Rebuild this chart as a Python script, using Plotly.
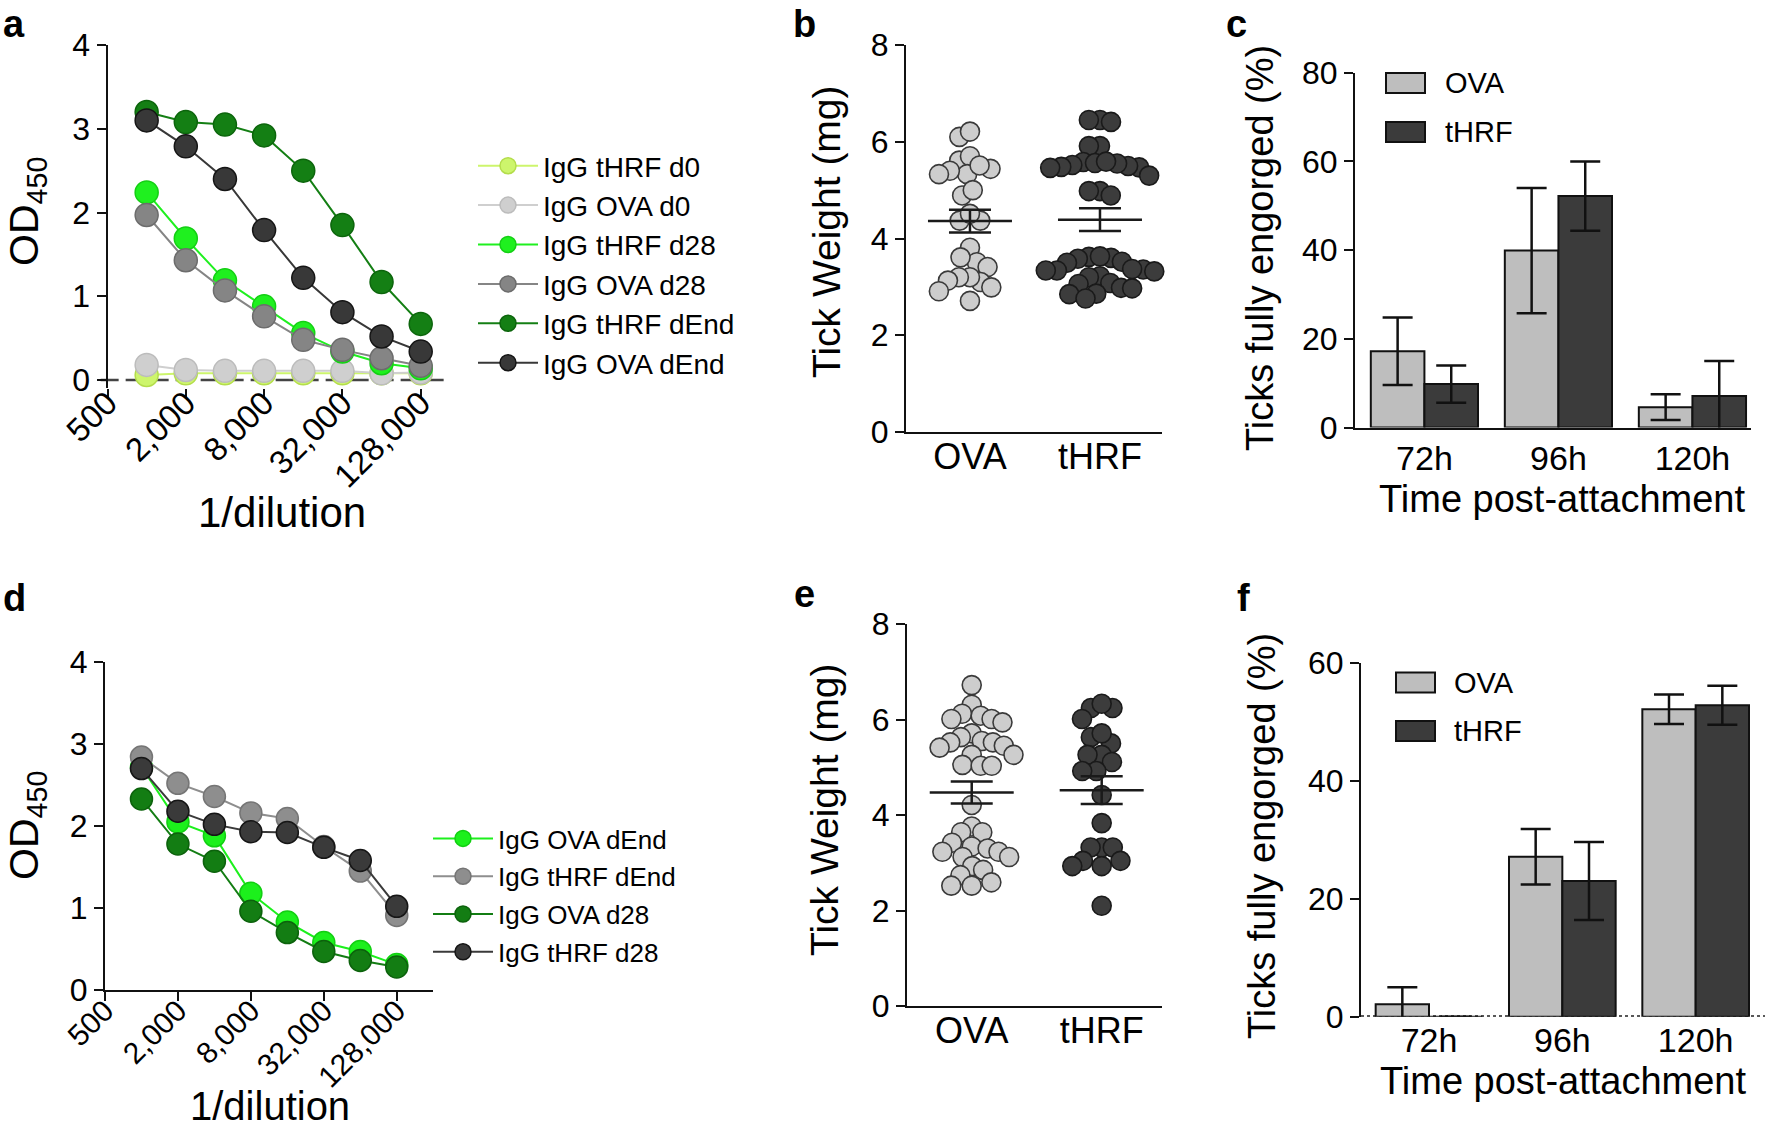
import math
import plotly.graph_objects as go

FONT = "Liberation Sans"
W, H = 1772, 1130

# ---------------- data ----------------
dilution = [1000, 2000, 4000, 8000, 16000, 32000, 64000, 128000]
dil_tickvals = [500, 2000, 8000, 32000, 128000]
dil_ticktext = ["500", "2,000", "8,000", "32,000", "128,000"]

a_names = ["IgG tHRF d0", "IgG OVA d0", "IgG tHRF d28", "IgG OVA d28", "IgG tHRF dEnd", "IgG OVA dEnd"]
a_thrf_d0 = [0.06, 0.08, 0.08, 0.08, 0.08, 0.08, 0.08, 0.08]
a_ova_d0 = [0.18, 0.12, 0.11, 0.11, 0.11, 0.11, 0.08, 0.09]
a_thrf_d28 = [2.24, 1.69, 1.19, 0.88, 0.56, 0.34, 0.20, 0.14]
a_ova_d28 = [1.97, 1.43, 1.07, 0.76, 0.48, 0.36, 0.26, 0.17]
a_thrf_dend = [3.20, 3.08, 3.05, 2.92, 2.50, 1.85, 1.17, 0.67]
a_ova_dend = [3.10, 2.79, 2.40, 1.79, 1.22, 0.81, 0.52, 0.34]

d_names = ["IgG OVA dEnd", "IgG tHRF dEnd", "IgG OVA d28", "IgG tHRF d28"]
d_ova_dend = [2.72, 2.05, 1.88, 1.18, 0.83, 0.58, 0.47, 0.31]
d_thrf_dend = [2.84, 2.52, 2.36, 2.16, 2.09, 1.75, 1.45, 0.91]
d_ova_d28 = [2.33, 1.78, 1.57, 0.96, 0.70, 0.47, 0.36, 0.28]
d_thrf_d28 = [2.70, 2.18, 2.02, 1.93, 1.92, 1.74, 1.58, 1.02]

groups = ["OVA", "tHRF"]
b_ova = [6.10, 6.21, 5.61, 5.70, 5.33, 5.44, 5.40, 5.51, 5.33, 4.89, 5.00, 4.37, 4.37, 4.51,
         3.81, 3.51, 3.61, 3.41, 3.10, 3.20, 3.20, 3.13, 2.99, 2.91, 2.71]
b_thrf = [6.45, 6.45, 6.41, 5.91, 5.91, 5.58, 5.56, 5.52, 5.48, 5.46, 5.47, 5.50, 5.55, 5.59,
          5.30, 4.98, 4.89, 4.98, 3.62, 3.60, 3.63, 3.58, 3.50, 3.52, 3.36, 3.34, 3.32, 3.34,
          3.37, 3.22, 3.20, 3.08, 3.06, 2.98, 2.97, 2.86, 2.85, 2.76]
b_mean = [4.36, 4.39]
b_sem = [0.235, 0.235]

e_ova = [6.72, 6.31, 6.12, 6.08, 6.01, 6.01, 5.94, 5.71, 5.63, 5.55, 5.52, 5.52, 5.45, 5.41,
         5.26, 5.26, 5.05, 5.03, 5.03, 4.21, 3.76, 3.64, 3.64, 3.42, 3.34, 3.30, 3.23, 3.23,
         3.12, 3.12, 2.93, 2.85, 2.74, 2.59, 2.52, 2.52]
e_thrf = [6.24, 6.01, 6.24, 6.33, 5.63, 5.50, 5.71, 5.26, 5.11, 5.26, 4.92, 4.92, 4.42, 3.83,
          3.32, 3.32, 3.32, 3.04, 2.93, 2.93, 3.04, 2.10]
e_mean = [4.47, 4.52]
e_sem = [0.23, 0.29]

times = ["72h", "96h", "120h"]
c_ova = [17.2, 39.9, 4.6]
c_ova_err = [7.6, 14.1, 2.9]
c_thrf = [9.8, 52.2, 7.1]
c_thrf_err = [4.2, 7.8, 7.9]
f_ova = [2.1, 27.1, 52.1]
f_ova_err = [2.9, 4.7, 2.5]
f_thrf = [0.0, 23.0, 52.8]
f_thrf_err = [0.0, 6.6, 3.3]


# ---------------- helpers ----------------
def fx(px):
    return px / W


def fy(py):
    return 1 - py / H


def beeswarm(vals, diam, ypx, xpx, squeeze):
    order = sorted(range(len(vals)), key=lambda i: -vals[i])
    placed = []
    off = [0.0] * len(vals)
    for i in order:
        y = vals[i] * ypx
        ivs = []
        for xj, yj in placed:
            dy = abs(y - yj)
            if dy < diam:
                dx = math.sqrt(diam * diam - dy * dy)
                ivs.append((xj - dx, xj + dx))
        cands = [0.0] + [e for iv in ivs for e in iv]
        ok = [c for c in cands if all(not (lo + 1e-6 < c < hi - 1e-6) for lo, hi in ivs)]
        best = min(ok, key=lambda c: (abs(c), c))
        placed.append((best, y))
        off[i] = best * squeeze / xpx
    return off


fig = go.Figure()

# ---------------- panel a ----------------
a_series = [a_thrf_d0, a_ova_d0, a_thrf_d28, a_ova_d28, a_thrf_dend, a_ova_dend]
a_fill = ["#cdf56c", "#cfcfcf", "#1ff01f", "#858585", "#147f14", "#383838"]
a_edge = ["#b4dd4c", "#bcbcbc", "#14cf14", "#6c6c6c", "#0c650c", "#151515"]
for name, ys, fc, ec in zip(a_names, a_series, a_fill, a_edge):
    fig.add_trace(go.Scatter(
        x=dilution, y=ys, name=name, mode="lines+markers", legendgroup=name,
        line=dict(color=fc, width=2),
        marker=dict(size=23, color=fc, line=dict(color=ec, width=1.5)),
        xaxis="x", yaxis="y", cliponaxis=False, legend="legend"))

# ---------------- panel d ----------------
d_series = [d_ova_dend, d_thrf_dend, d_ova_d28, d_thrf_d28]
d_fill = ["#1cf01c", "#8e8e8e", "#137d13", "#3a3a3a"]
d_edge = ["#12cf12", "#757575", "#0c620c", "#161616"]
for name, ys, fc, ec in zip(d_names, d_series, d_fill, d_edge):
    fig.add_trace(go.Scatter(
        x=dilution, y=ys, name=name, mode="lines+markers", legendgroup="d" + name,
        line=dict(color=fc, width=2),
        marker=dict(size=22, color=fc, line=dict(color=ec, width=1.5)),
        xaxis="x4", yaxis="y4", cliponaxis=False, legend="legend2"))

# ---------------- panels b / e (dot plots) ----------------
def dot_panel(xa, ya, ova, thrf, mean, sem, ypx, xpx):
    for gi, (vals, fc, ec) in enumerate([(ova, "#cdcdcd", "#3a3a3a"), (thrf, "#3c3c3c", "#1a1a1a")]):
        off = beeswarm(vals, 18.5, ypx, xpx, 0.6)
        fig.add_trace(go.Scatter(
            x=[gi + o for o in off], y=vals, mode="markers", showlegend=False,
            marker=dict(size=19, color=fc, line=dict(color=ec, width=1.6)),
            xaxis=xa, yaxis=ya, cliponaxis=False))
    fig.add_trace(go.Scatter(
        x=list(range(len(groups))), y=mean, mode="markers", showlegend=False,
        marker=dict(symbol="line-ew", size=60, color="#1a1a1a",
                    line=dict(color="#1a1a1a", width=2.5)),
        error_y=dict(type="data", array=sem, color="#1a1a1a", thickness=2.5, width=21),
        xaxis=xa, yaxis=ya, cliponaxis=False))


dot_panel("x2", "y2", b_ova, b_thrf, b_mean, b_sem, 387 / 8, 130)
dot_panel("x5", "y5", e_ova, e_thrf, e_mean, e_sem, 382 / 8, 130)

# ---------------- panels c / f (bars) ----------------
def bar_panel(xa, ya, ova, ova_err, thrf, thrf_err):
    for vals, err, fc, nm in [(ova, ova_err, "#bebebe", "OVA"), (thrf, thrf_err, "#3b3b3b", "tHRF")]:
        fig.add_trace(go.Bar(
            x=times, y=vals, name=nm, showlegend=False,
            marker=dict(color=fc, line=dict(color="#111111", width=2)),
            error_y=dict(type="data", array=err, color="#111111", thickness=2.5, width=15),
            xaxis=xa, yaxis=ya))


bar_panel("x3", "y3", c_ova, c_ova_err, c_thrf, c_thrf_err)
bar_panel("x6", "y6", f_ova, f_ova_err, f_thrf, f_thrf_err)

# ---------------- axes ----------------
TICK = 32
tickfont = dict(family=FONT, size=TICK, color="#000")
base = dict(showline=True, linecolor="#111", linewidth=2, ticks="outside", tickcolor="#111",
            tickwidth=2, ticklen=9, showgrid=False, zeroline=False, tickfont=tickfont,
            automargin=False)
catfont = dict(family=FONT, size=36, color="#000")
timefont = dict(family=FONT, size=34, color="#000")

layout_axes = dict(
    # a
    xaxis=dict(base, type="log", domain=[fx(107.5), fx(450)],
               range=[math.log10(500), math.log10(215000)], anchor="y",
               tickvals=dil_tickvals, ticktext=dil_ticktext, tickangle=-45, showline=False,
               tickfont=dict(family=FONT, size=33, color="#000"), ticklabelstandoff=-28),
    yaxis=dict(base, domain=[fy(388.4), fy(45)], range=[-0.1, 4], anchor="x",
               tickvals=[0, 1, 2, 3, 4]),
    # b
    xaxis2=dict(base, domain=[fx(906), fx(1162)], range=[-0.492, 1.477], anchor="y2",
                tickvals=[0, 1], ticktext=groups, ticks="", tickfont=catfont,
                ticklabelstandoff=-8),
    yaxis2=dict(base, domain=[fy(432), fy(45)], range=[0, 8], anchor="x2",
                tickvals=[0, 2, 4, 6, 8]),
    # c
    xaxis3=dict(base, domain=[fx(1355), fx(1751)], range=[-0.518, 2.437], anchor="y3",
                type="category", ticks="", tickfont=timefont),
    yaxis3=dict(base, domain=[fy(427.6), fy(72.7)], range=[0, 80], anchor="x3",
                tickvals=[0, 20, 40, 60, 80]),
    # d
    xaxis4=dict(base, type="log", domain=[fx(105), fx(433)],
                range=[math.log10(500), math.log10(255000)], anchor="y4",
                tickvals=dil_tickvals, ticktext=dil_ticktext, tickangle=-45,
                tickfont=dict(family=FONT, size=30, color="#000"), ticklabelstandoff=-20),
    yaxis4=dict(base, domain=[fy(990), fy(662)], range=[0, 4], anchor="x4",
                tickvals=[0, 1, 2, 3, 4]),
    # e
    xaxis5=dict(base, domain=[fx(907), fx(1162)], range=[-0.498, 1.464], anchor="y5",
                tickvals=[0, 1], ticktext=groups, ticks="", tickfont=catfont,
                ticklabelstandoff=-8),
    yaxis5=dict(base, domain=[fy(1006), fy(624)], range=[0, 8], anchor="x5",
                tickvals=[0, 2, 4, 6, 8]),
    # f
    xaxis6=dict(base, domain=[fx(1361), fx(1765)], range=[-0.51, 2.52], anchor="y6",
                type="category", ticks="", showline=False, tickfont=timefont),
    yaxis6=dict(base, domain=[fy(1016.7), fy(662.7)], range=[0, 60], anchor="x6",
                tickvals=[0, 20, 40, 60]),
)

shapes = [
    # dashed baseline of panel a
    dict(type="line", xref="x domain", yref="y", x0=-0.02, x1=1.0, y0=0, y1=0,
         line=dict(color="#444", width=2.5, dash="18px,7px"), layer="below"),
    # dotted baseline of panel f
    dict(type="line", xref="x6 domain", yref="y6", x0=0, x1=1.0, y0=0, y1=0,
         line=dict(color="#222", width=3, dash="dot"), layer="below"),
]
annotations = []


def ann(text, x, y, size, angle=0, bold=False, xanchor="center", yanchor="middle"):
    annotations.append(dict(text=("<b>%s</b>" % text) if bold else text, x=fx(x), y=fy(y),
                            xref="paper", yref="paper", showarrow=False, textangle=angle,
                            xanchor=xanchor, yanchor=yanchor,
                            font=dict(family=FONT, size=size, color="#000")))


# bar legends (c, f)
def bar_legend(x0, y_ova, y_thrf, text_x):
    for yc, fc, label in [(y_ova, "#bebebe", "OVA"), (y_thrf, "#3b3b3b", "tHRF")]:
        shapes.append(dict(type="rect", xref="paper", yref="paper",
                           x0=fx(x0), x1=fx(x0 + 39), y0=fy(yc + 10), y1=fy(yc - 10),
                           fillcolor=fc, line=dict(color="#111", width=2)))
        ann(label, text_x, yc, 29, xanchor="left")


bar_legend(1386, 83, 132, 1443)
bar_legend(1396, 682.5, 731, 1452)

# panel letters
ann("a", 14, 24, 38, bold=True)
ann("b", 804, 24, 38, bold=True)
ann("c", 1236, 24, 38, bold=True)
ann("d", 14, 598, 38, bold=True)
ann("e", 804, 594, 38, bold=True)
ann("f", 1243, 598, 38, bold=True)

# axis titles
ann("OD<sub>450</sub>", 27, 212, 41, angle=-90)
ann("1/dilution", 282, 512, 42)
ann("Tick Weight (mg)", 826, 232, 39, angle=-90)
ann("Ticks fully engorged (%)", 1260, 248, 38, angle=-90)
ann("Time post-attachment", 1562, 499, 38)
ann("OD<sub>450</sub>", 27, 826, 41, angle=-90)
ann("1/dilution", 270, 1106, 40)
ann("Tick Weight (mg)", 824, 810, 39, angle=-90)
ann("Ticks fully engorged (%)", 1262, 836, 38, angle=-90)
ann("Time post-attachment", 1563, 1081, 38)

fig.update_layout(
    width=W, height=H, autosize=False,
    margin=dict(l=0, r=0, t=0, b=0, autoexpand=False),
    paper_bgcolor="white", plot_bgcolor="white",
    font=dict(family=FONT, color="#000"),
    barmode="group", bargap=0.2, bargroupgap=0,
    shapes=shapes, annotations=annotations,
    legend=dict(x=fx(473), y=fy(141), xanchor="left", yanchor="top",
                font=dict(family=FONT, size=28, color="#000"), bgcolor="rgba(0,0,0,0)",
                itemsizing="trace", tracegroupgap=0, itemwidth=60),
    legend2=dict(x=fx(428), y=fy(815), xanchor="left", yanchor="top",
                 font=dict(family=FONT, size=26, color="#000"), bgcolor="rgba(0,0,0,0)",
                 itemsizing="trace", tracegroupgap=1, itemwidth=60),
    **layout_axes,
)

fig.write_html("out.html", config={"displayModeBar": False},
               post_script="document.body.style.margin='0px';")
